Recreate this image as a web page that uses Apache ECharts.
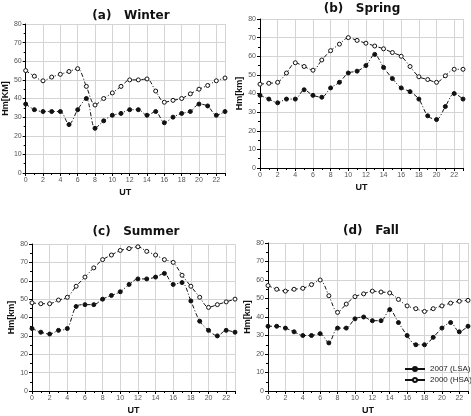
<!DOCTYPE html>
<html><head><meta charset="utf-8">
<script src="https://cdn.jsdelivr.net/npm/echarts@6/dist/echarts.min.js"></script>
<style>html,body{margin:0;padding:0;background:#fff}#c{width:471px;height:416px}</style>
</head><body><div id="c"></div>
<script>
const hours = [0,1,2,3,4,5,6,7,8,9,10,11,12,13,14,15,16,17,18,19,20,21,22,23];
const winterLSA = [37,34,33,33,33,26,34,40,24,28,31,32,34,34,31,33,27,30,32,33,37,36,31,33];
const winterHSA = [55,52,49.5,51.5,53,54.5,56,46.5,36.5,40,43,46.5,50,50,50.5,44,38,39,40,42.5,45,47,49.5,51];
const springLSA = [39,37,35,37,37,42,39,38,43,46,51,52,55,61,54,48,43,41,37,28,26,33,40,37];
const springHSA = [45,45.5,46,51,56.5,54.5,52.5,58,63,66.5,70,68.5,67,65.5,64,62,60,54.5,49,47.5,46,49.5,53,53];
const summerLSA = [34,32,31,33,34,46,47,47,50,52,54,58,61,61,62,64,58,59,49,38,33,30,33,32];
const summerHSA = [48,47.5,47.5,49.5,51,57,62,67,71.5,74,76.5,77.5,78.5,76,74,71.5,70,63,57,51,45.5,47,48.5,50];
const fallLSA = [35,35,34,32,30,30,31,26,34,34,39,40,38,38,44,37,30,25,25,29,34,37,32,35];
const fallHSA = [57,55,54,55,55.5,57.5,60,51.5,42.5,47,51,52.5,54,53.5,53,49.5,46,44.5,43,44.5,46,47.5,48.5,49];
const panelTitles = ['(a)   Winter','(b)   Spring','(c)   Summer','(d)   Fall'];
const yNames = ['Hm[KM]','Hm[km]','Hm[km]','Hm[km]'];
const lsa = [winterLSA, springLSA, summerLSA, fallLSA];
const hsa = [winterHSA, springHSA, summerHSA, fallHSA];
const nameLSA = '2007 (LSA)', nameHSA = '2000 (HSA)';

const grids = [
  {left:24, right:246, top:24, bottom:243},
  {left:260, right:8, top:19, bottom:248},
  {left:32, right:236, top:244, bottom:23},
  {left:268, right:1, top:243, bottom:25}
];
const titlePos = [[126,5],[357,-2],[131,221],[366,220]];
const yGaps = [14,14,16,15];

const pair = (arr) => hours.map((h,i)=>[h,arr[i]]);
const labelStyle = {fontSize:7, color:'#555', fontFamily:'Liberation Sans', margin:4};
const xAxes = grids.map((g,i)=>({
  gridIndex:i, type:'value', min:0, max:23, interval:2,
  name:'UT', nameLocation:'middle', nameGap:15,
  nameTextStyle:{fontSize:9, fontWeight:'bold', color:'#111', fontFamily:'Liberation Sans'},
  axisLine:{lineStyle:{color:'#000', width:1}},
  axisTick:{length:3, lineStyle:{color:'#000'}},
  minorTick:{show:true, splitNumber:2, length:2, lineStyle:{color:'#000'}},
  axisLabel:Object.assign({}, labelStyle, {formatter:(v)=> v===23?'':String(v)}),
  splitLine:{show:true, lineStyle:{color:'#d4d4d4', width:1}}
}));
const yAxes = grids.map((g,i)=>({
  gridIndex:i, type:'value', min:0, max:80, interval:10,
  name:yNames[i], nameLocation:'middle', nameGap:yGaps[i],
  nameTextStyle:{fontSize:9, fontWeight:'bold', color:'#111', fontFamily:'Liberation Sans'},
  axisLine:{show:true, lineStyle:{color:'#000', width:1}},
  axisTick:{show:true, length:3, lineStyle:{color:'#000'}},
  minorTick:{show:true, splitNumber:2, length:2, lineStyle:{color:'#000'}},
  axisLabel:labelStyle,
  splitLine:{show:true, lineStyle:{color:'#d4d4d4', width:1}}
}));
const series = [];
grids.forEach((g,i)=>{
  series.push({
    name:nameLSA, type:'line', xAxisIndex:i, yAxisIndex:i, data:pair(lsa[i]),
    smooth:0.3, symbol:'circle', symbolSize:4,
    lineStyle:{color:'#111', width:1, type:[4,2,1,2]},
    itemStyle:{color:'#111', borderColor:'#111', borderWidth:1}
  });
  series.push({
    name:nameHSA, type:'line', xAxisIndex:i, yAxisIndex:i, data:pair(hsa[i]),
    smooth:0.3, symbol:'circle', symbolSize:4,
    lineStyle:{color:'#111', width:1, type:[4,2,1,2]},
    itemStyle:{color:'#fff', borderColor:'#111', borderWidth:1}
  });
});
const titles = panelTitles.map((t,i)=>({
  text:t, left:titlePos[i][0], top:titlePos[i][1], textAlign:'center',
  textStyle:{fontSize:12, fontWeight:'bold', color:'#111', fontFamily:'DejaVu Sans'}
}));
const chart = echarts.init(document.getElementById('c'), null, {renderer:'canvas'});
chart.setOption({
  animation:false,
  backgroundColor:'#fff',
  title:titles,
  grid:grids,
  xAxis:xAxes,
  yAxis:yAxes,
  legend:{
    data:[nameLSA, nameHSA], orient:'vertical', left:404, top:365, padding:0,
    itemWidth:20, itemHeight:5, itemGap:3,
    textStyle:{fontSize:8, color:'#222', fontFamily:'Liberation Sans'},
    lineStyle:{type:'solid'}, selectedMode:false
  },
  series:series
});
</script></body></html>
